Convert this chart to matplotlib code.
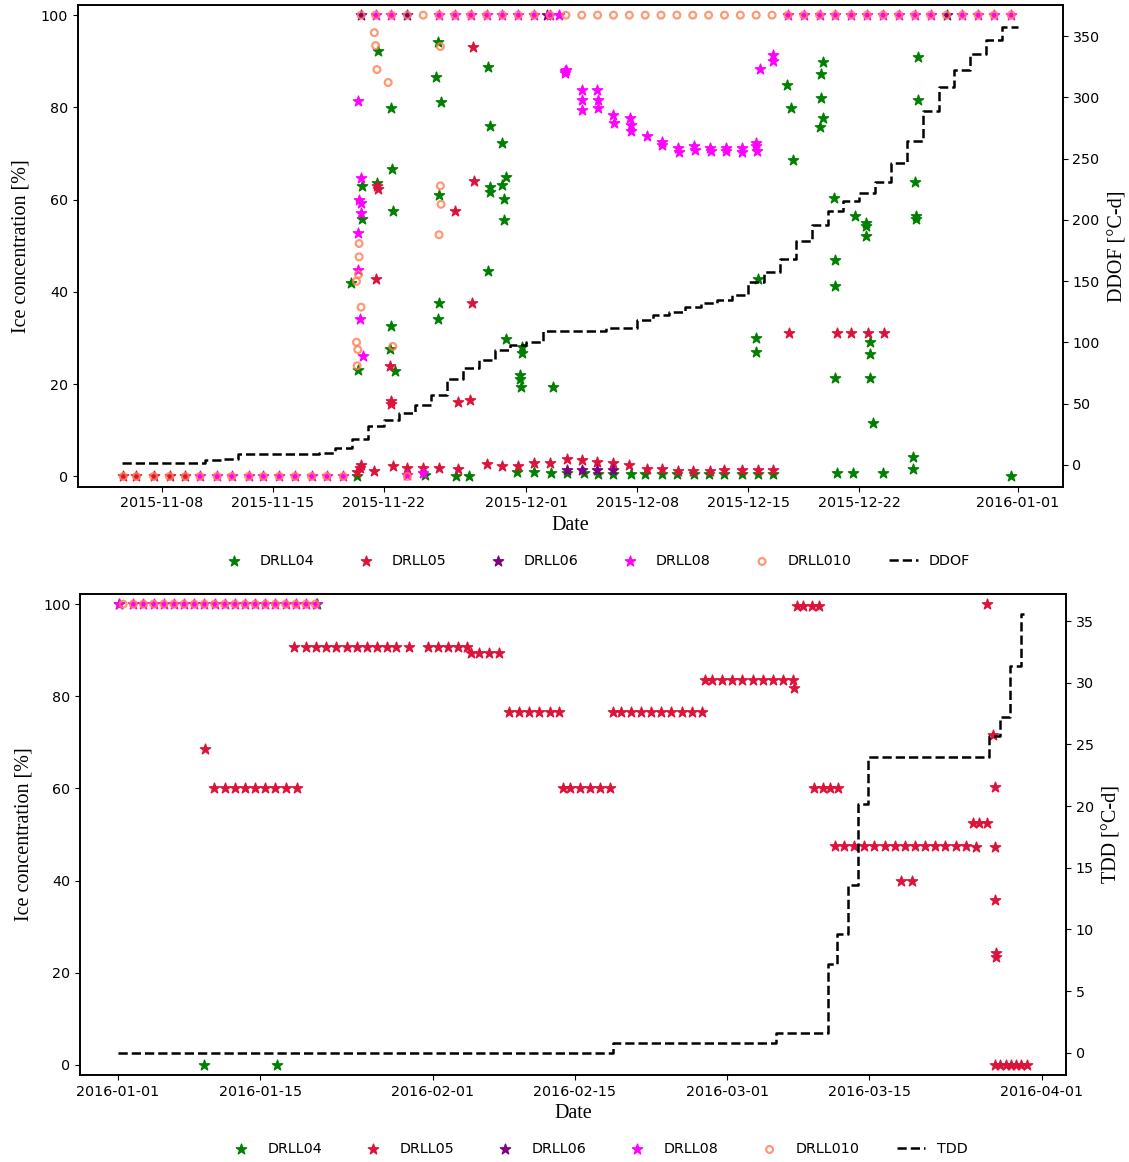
import pandas as pd
import matplotlib
matplotlib.use('Agg')
import matplotlib.pyplot as plt
import matplotlib.dates as mdates

# ---------------- Nov-Dec 2015 (freeze-up) ----------------
ddof_time = ['2015-11-05 12:00', '2015-11-10 18:00', '2015-11-11 20:00', '2015-11-12 20:00',
             '2015-11-17 22:00', '2015-11-18 22:00', '2015-11-20 00:00', '2015-11-21 00:00',
             '2015-11-22 00:00', '2015-11-23 00:00', '2015-11-24 00:00', '2015-11-25 00:00',
             '2015-11-26 00:00', '2015-11-27 00:00', '2015-11-28 00:00', '2015-11-29 00:00',
             '2015-11-30 00:00', '2015-12-01 00:00', '2015-12-02 02:00', '2015-12-06 00:00',
             '2015-12-08 00:00', '2015-12-09 00:00', '2015-12-10 00:00', '2015-12-11 00:00',
             '2015-12-12 00:00', '2015-12-13 00:00', '2015-12-14 00:00', '2015-12-15 00:00',
             '2015-12-16 00:00', '2015-12-17 00:00', '2015-12-18 00:00', '2015-12-19 00:00',
             '2015-12-20 00:00', '2015-12-21 00:00', '2015-12-22 00:00', '2015-12-23 00:00',
             '2015-12-24 00:00', '2015-12-25 00:00', '2015-12-26 00:00', '2015-12-27 00:00',
             '2015-12-28 00:00', '2015-12-29 00:00', '2015-12-30 00:00', '2015-12-31 00:00',
             '2016-01-01 00:00']
ddof = [1.4, 4.1, 4.9, 8.7, 10.0, 13.6, 21.2, 32.0, 36.7, 42.0,
        49.0, 57.0, 70.0, 79.0, 86.0, 94.0, 98.0, 100.6, 109.0, 111.9,
        118.0, 122.0, 125.0, 129.0, 132.0, 134.5, 139.0, 149.5, 157.6, 168.0,
        182.7, 195.4, 207.0, 215.7, 221.6, 231.0, 246.0, 264.0, 289.0, 308.0,
        322.0, 335.0, 346.5, 357.0, 357.0]

a04_time = ['2015-11-19 22:00', '2015-11-20 08:00', '2015-11-20 10:00', '2015-11-20 15:00', '2015-11-20 15:00',
            '2015-11-21 14:00', '2015-11-21 15:00', '2015-11-22 10:00', '2015-11-22 12:00', '2015-11-22 12:00',
            '2015-11-22 13:00', '2015-11-22 15:00', '2015-11-22 17:00', '2015-11-24 14:00', '2015-11-25 07:00',
            '2015-11-25 10:00', '2015-11-25 10:00', '2015-11-25 12:00', '2015-11-25 12:00', '2015-11-25 15:00',
            '2015-11-26 14:00', '2015-11-27 10:00', '2015-11-28 14:00', '2015-11-28 14:00', '2015-11-28 17:00',
            '2015-11-28 17:00', '2015-11-28 17:00', '2015-11-29 12:00', '2015-11-29 12:00', '2015-11-29 14:00',
            '2015-11-29 14:00', '2015-11-29 17:00', '2015-11-29 17:00', '2015-11-30 10:00', '2015-11-30 14:00',
            '2015-11-30 14:00', '2015-11-30 16:00', '2015-11-30 17:00', '2015-11-30 17:00', '2015-12-01 12:00',
            '2015-12-02 14:00', '2015-12-02 17:00', '2015-12-03 13:00', '2015-12-04 15:00', '2015-12-05 13:00',
            '2015-12-06 12:00', '2015-12-07 14:00', '2015-12-08 12:00', '2015-12-09 14:00', '2015-12-10 12:00',
            '2015-12-11 14:00', '2015-12-12 12:00', '2015-12-13 12:00', '2015-12-14 14:00', '2015-12-15 11:00',
            '2015-12-15 11:00', '2015-12-15 14:00', '2015-12-15 14:00', '2015-12-16 14:00', '2015-12-17 10:00',
            '2015-12-17 17:00', '2015-12-17 19:00', '2015-12-19 12:00', '2015-12-19 14:00', '2015-12-19 14:00',
            '2015-12-19 17:00', '2015-12-19 17:00', '2015-12-20 10:00', '2015-12-20 11:00', '2015-12-20 11:00',
            '2015-12-20 12:00', '2015-12-20 14:00', '2015-12-21 14:00', '2015-12-21 18:00', '2015-12-22 10:00',
            '2015-12-22 10:00', '2015-12-22 10:00', '2015-12-22 16:00', '2015-12-22 16:00', '2015-12-22 16:00',
            '2015-12-22 21:00', '2015-12-23 12:00', '2015-12-25 10:00', '2015-12-25 10:00', '2015-12-25 12:00',
            '2015-12-25 14:00', '2015-12-25 14:00', '2015-12-25 17:00', '2015-12-25 17:00', '2015-12-31 14:00']
a04 = [42.0, 0.0, 23.1, 55.9, 63.0,
       63.6, 92.3, 27.6, 32.7, 79.9,
       66.7, 57.5, 22.8, 0.4, 86.5,
       34.2, 94.2, 37.5, 61.1, 81.2,
       0.0, 0.0, 88.8, 44.5, 76.0,
       62.7, 61.7, 72.2, 63.2, 60.1,
       55.7, 64.9, 29.8, 0.9, 22.0,
       21.1, 19.5, 28.1, 26.8, 0.9,
       0.8, 19.4, 0.7, 0.7, 0.6,
       0.6, 0.5, 0.5, 0.6, 0.5,
       0.6, 0.5, 0.6, 0.5, 30.1,
       26.9, 42.7, 0.5, 0.6, 84.9,
       79.9, 68.7, 75.7, 87.2, 82.0,
       89.8, 77.7, 60.4, 47.0, 41.2,
       21.4, 0.7, 0.7, 56.5, 54.9,
       54.2, 52.1, 29.1, 26.5, 21.4,
       11.6, 0.7, 4.2, 1.7, 63.8,
       56.4, 55.9, 91.0, 81.5, 0.0]

a05_time = ['2015-11-05 14:00', '2015-11-06 10:00', '2015-11-07 12:00', '2015-11-08 12:00', '2015-11-09 12:00',
            '2015-11-20 08:00', '2015-11-20 13:00', '2015-11-20 14:00', '2015-11-21 09:00', '2015-11-21 12:00',
            '2015-11-21 14:00', '2015-11-21 15:00', '2015-11-22 10:00', '2015-11-22 12:00', '2015-11-22 12:00',
            '2015-11-22 14:00', '2015-11-23 12:00', '2015-11-24 12:00', '2015-11-25 12:00', '2015-11-26 12:00',
            '2015-11-26 16:00', '2015-11-26 17:00', '2015-11-27 11:00', '2015-11-27 14:00', '2015-11-27 16:00',
            '2015-11-27 17:00', '2015-11-28 12:00', '2015-11-29 12:00', '2015-11-30 12:00', '2015-12-01 12:00',
            '2015-12-02 12:00', '2015-12-03 13:00', '2015-12-04 12:00', '2015-12-05 11:00', '2015-12-06 12:00',
            '2015-12-07 12:00', '2015-12-08 14:00', '2015-12-09 13:00', '2015-12-10 14:00', '2015-12-11 13:00',
            '2015-12-12 14:00', '2015-12-13 12:00', '2015-12-14 14:00', '2015-12-15 14:00', '2015-12-16 13:00',
            '2015-12-17 14:00', '2015-12-20 14:00', '2015-12-21 12:00', '2015-12-22 14:00', '2015-12-23 13:00']
a05 = [0.0, 0.0, 0.0, 0.0, 0.0,
       0.9, 1.8, 2.5, 1.1, 42.7,
       62.9, 62.3, 24.0, 16.3, 15.8,
       2.2, 1.8, 1.8, 1.8, 57.6,
       16.1, 1.6, 16.5, 37.5, 93.2,
       64.0, 2.7, 2.2, 2.3, 2.9,
       3.0, 3.7, 3.6, 3.2, 2.9,
       2.5, 1.7, 1.6, 1.1, 1.1,
       1.2, 1.3, 1.4, 1.4, 1.4,
       31.0, 31.0, 31.0, 31.0, 31.0]

a06_time = ['2015-11-20 14:00', '2015-11-23 12:00', '2015-12-02 08:00', '2015-12-03 13:00',
            '2015-12-04 12:00', '2015-12-05 11:00', '2015-12-06 12:00', '2015-12-27 13:00']
a06 = [100.0, 100.0, 100.0, 1.3, 1.4, 1.3, 1.3, 100.0]

a08_time = ['2015-11-10 10:00', '2015-11-11 12:00', '2015-11-12 10:00', '2015-11-13 12:00', '2015-11-14 10:00',
            '2015-11-15 10:00', '2015-11-16 10:00', '2015-11-17 11:00', '2015-11-18 10:00', '2015-11-19 11:00',
            '2015-11-20 09:00', '2015-11-20 10:00', '2015-11-20 10:00', '2015-11-20 11:00', '2015-11-20 12:00',
            '2015-11-20 14:00', '2015-11-20 14:00', '2015-11-20 14:00', '2015-11-20 17:00',
            '2015-11-21 12:00', '2015-11-22 12:00', '2015-11-25 12:00',
            '2015-11-26 12:00', '2015-11-27 12:00', '2015-11-28 12:00', '2015-11-29 12:00', '2015-11-30 12:00',
            '2015-12-01 12:00', '2015-12-02 12:00', '2015-12-03 02:00', '2015-11-23 12:00', '2015-11-24 12:00',
            '2015-12-03 10:00', '2015-12-03 11:00', '2015-12-03 12:00',
            '2015-12-04 12:00', '2015-12-04 13:00', '2015-12-04 12:00',
            '2015-12-05 11:00', '2015-12-05 12:00', '2015-12-05 12:00',
            '2015-12-06 12:00', '2015-12-06 13:00',
            '2015-12-07 13:00', '2015-12-07 14:00', '2015-12-07 14:00',
            '2015-12-08 14:00', '2015-12-09 13:00', '2015-12-09 14:00',
            '2015-12-10 14:00', '2015-12-10 15:00', '2015-12-11 14:00', '2015-12-11 15:00',
            '2015-12-12 14:00', '2015-12-12 15:00', '2015-12-13 14:00', '2015-12-13 15:00',
            '2015-12-14 14:00', '2015-12-14 15:00', '2015-12-15 12:00', '2015-12-15 13:00', '2015-12-15 12:00',
            '2015-12-15 18:00', '2015-12-16 13:00', '2015-12-16 14:00',
            '2015-12-17 12:00', '2015-12-18 12:00', '2015-12-19 12:00', '2015-12-20 12:00', '2015-12-21 12:00',
            '2015-12-22 12:00', '2015-12-23 12:00', '2015-12-24 12:00', '2015-12-25 12:00', '2015-12-26 12:00',
            '2015-12-28 12:00', '2015-12-29 12:00', '2015-12-30 12:00', '2015-12-31 14:00']
a08 = [0.0, 0.0, 0.0, 0.0, 0.0,
       0.0, 0.0, 0.0, 0.0, 0.0,
       44.8, 81.4, 52.8, 60.0, 34.1,
       64.8, 59.3, 57.1, 26.2,
       100.0, 100.0, 100.0,
       100.0, 100.0, 100.0, 100.0, 100.0,
       100.0, 100.0, 100.0, 0.4, 0.7,
       87.8, 87.4, 88.2,
       83.8, 81.7, 79.5,
       83.8, 81.7, 79.9,
       78.4, 76.6,
       77.7, 76.2, 74.8,
       73.7, 72.6, 71.8,
       71.2, 70.3, 71.6, 70.8,
       71.2, 70.5, 71.2, 70.6,
       71.2, 70.4, 71.6, 70.5, 72.2,
       88.4, 91.4, 90.0,
       100.0, 100.0, 100.0, 100.0, 100.0,
       100.0, 100.0, 100.0, 100.0, 100.0,
       100.0, 100.0, 100.0, 100.0]

a010_time = ['2015-11-05 14:00', '2015-11-06 10:00', '2015-11-07 12:00', '2015-11-08 12:00', '2015-11-09 12:00',
             '2015-11-10 10:00', '2015-11-11 12:00', '2015-11-12 10:00', '2015-11-13 12:00', '2015-11-14 10:00',
             '2015-11-15 10:00', '2015-11-16 10:00', '2015-11-17 11:00', '2015-11-18 10:00', '2015-11-19 11:00',
             '2015-11-23 12:00',
             '2015-11-20 07:00', '2015-11-20 07:00', '2015-11-20 08:00', '2015-11-20 09:00', '2015-11-20 11:00',
             '2015-11-20 11:00', '2015-11-20 10:00', '2015-11-20 14:00', '2015-11-21 10:00', '2015-11-21 12:00',
             '2015-11-21 14:00', '2015-11-22 07:00', '2015-11-22 14:00', '2015-11-25 12:00', '2015-11-25 14:00',
             '2015-11-25 14:00', '2015-11-25 15:00',
             '2015-11-20 14:00', '2015-11-21 12:00', '2015-11-22 12:00', '2015-11-23 12:00', '2015-11-24 12:00',
             '2015-11-25 12:00', '2015-11-26 12:00', '2015-11-27 12:00', '2015-11-28 12:00', '2015-11-29 12:00',
             '2015-11-30 12:00', '2015-12-01 12:00', '2015-12-02 12:00', '2015-12-03 12:00', '2015-12-04 12:00',
             '2015-12-05 12:00', '2015-12-06 12:00', '2015-12-07 12:00', '2015-12-08 12:00', '2015-12-09 12:00',
             '2015-12-10 12:00', '2015-12-11 12:00', '2015-12-12 12:00', '2015-12-13 12:00', '2015-12-14 12:00',
             '2015-12-15 12:00', '2015-12-16 12:00', '2015-12-17 12:00', '2015-12-18 12:00', '2015-12-19 12:00',
             '2015-12-20 12:00', '2015-12-21 12:00', '2015-12-22 12:00', '2015-12-23 12:00', '2015-12-24 12:00',
             '2015-12-25 12:00', '2015-12-26 12:00', '2015-12-27 12:00', '2015-12-28 12:00', '2015-12-29 12:00',
             '2015-12-30 12:00', '2015-12-31 14:00']
a010 = [0.0, 0.0, 0.0, 0.0, 0.0,
        0.0, 0.0, 0.0, 0.0, 0.0,
        0.0, 0.0, 0.0, 0.0, 0.0,
        0.0,
        42.3, 29.1, 24.0, 27.5, 50.5,
        47.6, 43.8, 36.7, 96.2, 93.4,
        88.2, 85.4, 28.2, 52.4, 93.2,
        63.0, 59.0,
        100.0, 100.0, 100.0, 100.0, 100.0,
        100.0, 100.0, 100.0, 100.0, 100.0,
        100.0, 100.0, 100.0, 100.0, 100.0,
        100.0, 100.0, 100.0, 100.0, 100.0,
        100.0, 100.0, 100.0, 100.0, 100.0,
        100.0, 100.0, 100.0, 100.0, 100.0,
        100.0, 100.0, 100.0, 100.0, 100.0,
        100.0, 100.0, 100.0, 100.0, 100.0,
        100.0, 100.0]

# ---------------- Jan-Mar 2016 (melt) ----------------
tdd_time = ['2016-01-01 00:00', '2016-02-18 18:00', '2016-03-05 20:00', '2016-03-10 22:00',
            '2016-03-11 20:00', '2016-03-12 22:00', '2016-03-13 22:00', '2016-03-14 20:00',
            '2016-03-26 20:00', '2016-03-27 20:00', '2016-03-28 20:00', '2016-03-29 22:00',
            '2016-03-30 06:00']
tdd = [0.0, 0.8, 1.6, 7.2, 9.6, 13.6, 20.2, 24.0, 25.7, 27.2, 31.4, 35.6, 35.6]

b04_time = ['2016-01-01 02:00', '2016-01-09 12:00', '2016-01-16 16:00', '2016-01-20 14:00']
b04 = [100.0, 0.0, 0.0, 100.0]

b05_time = ['2016-01-09 14:00',
            '2016-01-10 10:00', '2016-01-11 12:00', '2016-01-12 12:00', '2016-01-13 12:00', '2016-01-14 12:00',
            '2016-01-15 12:00', '2016-01-16 12:00', '2016-01-17 12:00', '2016-01-18 14:00',
            '2016-01-18 08:00', '2016-01-19 12:00', '2016-01-20 12:00', '2016-01-21 12:00', '2016-01-22 12:00',
            '2016-01-23 12:00', '2016-01-24 12:00', '2016-01-25 12:00', '2016-01-26 12:00', '2016-01-27 12:00',
            '2016-01-28 10:00', '2016-01-29 16:00',
            '2016-01-31 12:00', '2016-02-01 12:00', '2016-02-02 12:00', '2016-02-03 12:00', '2016-02-04 08:00',
            '2016-02-04 18:00', '2016-02-05 14:00', '2016-02-06 12:00', '2016-02-07 12:00',
            '2016-02-08 12:00', '2016-02-09 12:00', '2016-02-10 12:00', '2016-02-11 12:00', '2016-02-12 12:00',
            '2016-02-13 10:00',
            '2016-02-13 20:00', '2016-02-14 12:00', '2016-02-15 12:00', '2016-02-16 12:00', '2016-02-17 12:00',
            '2016-02-18 12:00',
            '2016-02-18 18:00', '2016-02-19 12:00', '2016-02-20 12:00', '2016-02-21 12:00', '2016-02-22 12:00',
            '2016-02-23 12:00', '2016-02-24 12:00', '2016-02-25 12:00', '2016-02-26 12:00', '2016-02-27 12:00',
            '2016-02-27 20:00', '2016-02-28 12:00', '2016-02-29 12:00', '2016-03-01 12:00', '2016-03-02 12:00',
            '2016-03-03 12:00', '2016-03-04 12:00', '2016-03-05 12:00', '2016-03-06 12:00', '2016-03-07 12:00',
            '2016-03-07 15:00',
            '2016-03-07 20:00', '2016-03-08 12:00', '2016-03-09 08:00', '2016-03-10 00:00',
            '2016-03-09 14:00', '2016-03-10 10:00', '2016-03-11 04:00', '2016-03-11 22:00',
            '2016-03-11 16:00', '2016-03-12 12:00', '2016-03-13 12:00', '2016-03-14 12:00', '2016-03-15 12:00',
            '2016-03-16 12:00', '2016-03-17 12:00', '2016-03-18 12:00', '2016-03-19 12:00', '2016-03-20 12:00',
            '2016-03-21 12:00', '2016-03-22 12:00', '2016-03-23 12:00', '2016-03-24 12:00', '2016-03-25 12:00',
            '2016-03-18 03:00', '2016-03-19 05:00',
            '2016-03-25 05:00', '2016-03-25 19:00', '2016-03-26 14:00',
            '2016-03-26 14:00', '2016-03-27 05:00', '2016-03-27 10:00', '2016-03-27 10:00', '2016-03-27 10:00',
            '2016-03-27 12:00', '2016-03-27 12:00',
            '2016-03-27 10:00', '2016-03-27 22:00', '2016-03-28 10:00', '2016-03-28 22:00', '2016-03-29 10:00',
            '2016-03-29 22:00', '2016-03-30 12:00']
b05 = [68.6,
       60.0, 60.0, 60.0, 60.0, 60.0,
       60.0, 60.0, 60.0, 60.0,
       90.6, 90.6, 90.6, 90.6, 90.6,
       90.6, 90.6, 90.6, 90.6, 90.6,
       90.6, 90.6,
       90.6, 90.6, 90.6, 90.6, 90.6,
       89.4, 89.4, 89.4, 89.4,
       76.6, 76.6, 76.6, 76.6, 76.6,
       76.6,
       60.0, 60.0, 60.0, 60.0, 60.0,
       60.0,
       76.6, 76.6, 76.6, 76.6, 76.6,
       76.6, 76.6, 76.6, 76.6, 76.6,
       83.6, 83.6, 83.6, 83.6, 83.6,
       83.6, 83.6, 83.6, 83.6, 83.6,
       81.7,
       99.6, 99.6, 99.6, 99.6,
       60.0, 60.0, 60.0, 60.0,
       47.6, 47.6, 47.6, 47.6, 47.6,
       47.6, 47.6, 47.6, 47.6, 47.6,
       47.6, 47.6, 47.6, 47.4, 47.2,
       40.0, 40.0,
       52.4, 52.4, 52.4,
       100.0, 71.5, 60.3, 47.2, 35.8,
       24.3, 23.3,
       0.0, 0.0, 0.0, 0.0, 0.0,
       0.0, 0.0]

b08_time = ['2016-01-01 03:00', '2016-01-02 12:00', '2016-01-03 12:00', '2016-01-04 12:00', '2016-01-05 12:00',
            '2016-01-06 12:00', '2016-01-07 12:00', '2016-01-08 12:00', '2016-01-09 12:00', '2016-01-10 12:00',
            '2016-01-11 12:00', '2016-01-12 12:00', '2016-01-13 12:00', '2016-01-14 12:00', '2016-01-15 12:00',
            '2016-01-16 12:00', '2016-01-17 12:00', '2016-01-18 12:00', '2016-01-19 12:00', '2016-01-20 12:00']
b08 = [100.0] * len(b08_time)

b010_time = ['2016-01-01 12:00', '2016-01-02 12:00', '2016-01-03 12:00', '2016-01-04 12:00', '2016-01-05 12:00',
             '2016-01-06 12:00', '2016-01-07 12:00', '2016-01-08 12:00', '2016-01-09 12:00', '2016-01-10 12:00',
             '2016-01-11 12:00', '2016-01-12 12:00', '2016-01-13 12:00', '2016-01-14 12:00', '2016-01-15 12:00',
             '2016-01-16 12:00', '2016-01-17 12:00', '2016-01-18 12:00', '2016-01-19 12:00', '2016-01-20 10:00']
b010 = [100.0] * len(b010_time)

stations = ['DRLL04', 'DRLL05', 'DRLL06', 'DRLL08', 'DRLL010']
colors = ['green', 'crimson', 'purple', 'magenta', 'coral']

label_font = {'family': 'Liberation Serif', 'size': 14.5}


def draw_panel(ax, series, dd_time, dd, dd_label, xlim, rlim, rticks, day_ticks):
    for name, color, (t, v) in zip(stations, colors, series):
        if name == 'DRLL010':
            ax.scatter(pd.to_datetime(t), v, marker='o', s=24, facecolors='none',
                       edgecolors=color, linewidths=1.6, alpha=0.8, label=name)
        else:
            ax.scatter(pd.to_datetime(t), v, marker='*', s=60, color=color, label=name)
    ax.set_ylim(-2.2, 102.2)
    ax.set_yticks([0, 20, 40, 60, 80, 100])
    ax.set_xlim(pd.to_datetime(xlim[0]), pd.to_datetime(xlim[1]))
    ax.xaxis.set_major_locator(mdates.DayLocator(bymonthday=day_ticks))
    ax.xaxis.set_major_formatter(mdates.DateFormatter('%Y-%m-%d'))
    ax.set_xlabel('Date', fontdict=label_font, labelpad=4)
    ax.set_ylabel('Ice concentration [%]', fontdict=label_font, labelpad=7)

    axr = ax.twinx()
    line, = axr.plot(pd.to_datetime(dd_time), dd, 'k--', lw=1.8, drawstyle='steps-post', label=dd_label)
    axr.set_ylim(*rlim)
    axr.set_yticks(rticks)
    axr.set_ylabel(dd_label + ' [°C-d]', fontdict=label_font, labelpad=6)

    for a in (ax, axr):
        a.tick_params(labelsize=10.3)
        for s in a.spines.values():
            s.set_linewidth(1.2)
    return ax.get_legend_handles_labels()[0] + [line]


fig = plt.figure(figsize=(11.29, 11.62), dpi=100)

ax1 = fig.add_axes([0.0688, 0.5812, 0.8725, 0.4145])
h1 = draw_panel(ax1, [(a04_time, a04), (a05_time, a05), (a06_time, a06), (a08_time, a08), (a010_time, a010)],
                ddof_time, ddof, 'DDOF', ('2015-11-02 17:00', '2016-01-03 20:00'),
                (-17.7, 375.3), range(0, 351, 50), [1, 8, 15, 22])
fig.legend(h1, stations + ['DDOF'], loc='center', bbox_to_anchor=(0.527, 0.517), ncol=6,
           frameon=False, fontsize=10.3, columnspacing=2.6, handletextpad=0.8)

ax2 = fig.add_axes([0.0709, 0.0749, 0.8733, 0.4139])
h2 = draw_panel(ax2, [(b04_time, b04), (b05_time, b05), ([], []), (b08_time, b08), (b010_time, b010)],
                tdd_time, tdd, 'TDD', ('2015-12-28 06:00', '2016-04-03 09:00'),
                (-1.8, 37.2), range(0, 36, 5), [1, 15])
fig.legend(h2, stations + ['TDD'], loc='center', bbox_to_anchor=(0.529, 0.011), ncol=6,
           frameon=False, fontsize=10.3, columnspacing=2.6, handletextpad=0.8)

fig.savefig('out.png', dpi=100)
